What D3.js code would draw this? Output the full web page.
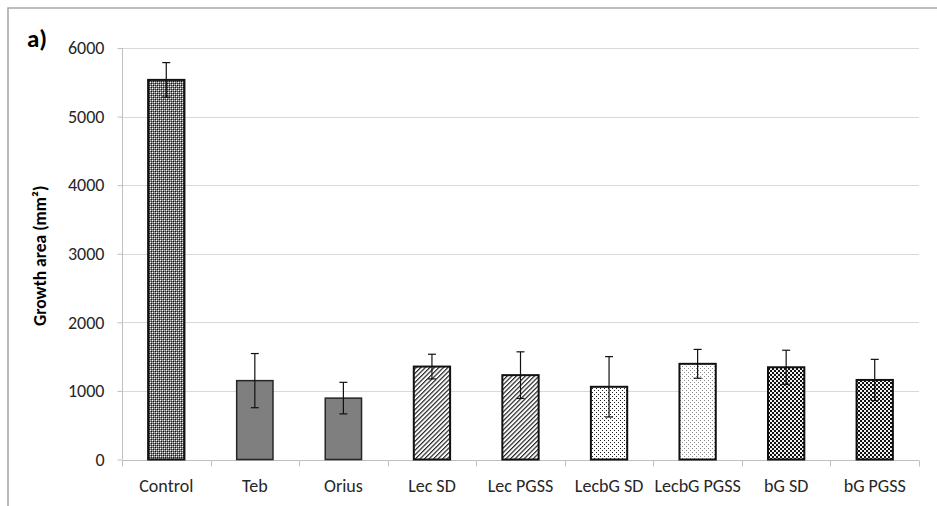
<!DOCTYPE html>
<html>
<head>
<meta charset="utf-8">
<script src="https://cdn.jsdelivr.net/npm/d3@7"></script>
<style>
  html, body { margin: 0; padding: 0; background: #fff; }
  svg { display: block; font-family: Carlito, Lato, "Open Sans", sans-serif; }
</style>
</head>
<body>
<svg id="chart" width="937" height="506"></svg>
<script>
// Treatments and measured growth area (mean ± error), mm²
const categories = ["Control", "Teb", "Orius", "Lec SD", "Lec PGSS", "LecbG SD", "LecbG PGSS", "bG SD", "bG PGSS"];
const means  = [5535, 1150, 895, 1355, 1230, 1060, 1395, 1345, 1160];
const errors = [252, 395, 230, 180, 340, 440, 210, 248, 300];
const fills  = ["plaid", "solid", "solid", "diag", "diag", "dotsDense", "dotsLight", "checker", "checker"];
const yTicks = [0, 1000, 2000, 3000, 4000, 5000, 6000];
const yTitle = "Growth area (mm²)";
const panelLabel = "a)";

const svg = d3.select("#chart");
const plotLeft = 122, plotRight = 919, plotTop = 48, plotBottom = 459.5;

const x = d3.scaleBand().domain(categories).range([plotLeft, plotRight]).paddingInner(0.59).paddingOuter(0.295);
const y = d3.scaleLinear().domain([0, 6000]).range([plotBottom, plotTop]);

// ---- fill patterns ----
const defs = svg.append("defs");

const plaid = defs.append("pattern").attr("id", "plaid").attr("patternUnits", "userSpaceOnUse")
  .attr("width", 4).attr("height", 4).attr("shape-rendering", "crispEdges");
plaid.append("rect").attr("width", 4).attr("height", 4).attr("fill", "#7a7a7a");
[[0,0,"#fff"],[2,2,"#fff"],[1,1,"#111"],[3,3,"#111"],[0,2,"#bdbdbd"],[2,0,"#bdbdbd"],[1,3,"#333"],[3,1,"#333"]]
  .forEach(([px, py, c]) => plaid.append("rect").attr("x", px).attr("y", py).attr("width", 1).attr("height", 1).attr("fill", c));

const diag = defs.append("pattern").attr("id", "diag").attr("patternUnits", "userSpaceOnUse")
  .attr("width", 3.2).attr("height", 3.2).attr("patternTransform", "rotate(45)");
diag.append("rect").attr("width", 3.2).attr("height", 3.2).attr("fill", "#fff");
diag.append("rect").attr("width", 1.2).attr("height", 3.2).attr("fill", "#222");

const dotsDense = defs.append("pattern").attr("id", "dotsDense").attr("patternUnits", "userSpaceOnUse")
  .attr("width", 4).attr("height", 4).attr("shape-rendering", "crispEdges");
dotsDense.append("rect").attr("width", 4).attr("height", 4).attr("fill", "#fff");
[[0,0],[2,2]].forEach(([px, py]) => dotsDense.append("rect").attr("x", px).attr("y", py).attr("width", 1).attr("height", 1).attr("fill", "#222"));

const dotsLight = defs.append("pattern").attr("id", "dotsLight").attr("patternUnits", "userSpaceOnUse")
  .attr("width", 4).attr("height", 4).attr("shape-rendering", "crispEdges");
dotsLight.append("rect").attr("width", 4).attr("height", 4).attr("fill", "#fff");
[[0,0],[2,2]].forEach(([px, py]) => dotsLight.append("rect").attr("x", px).attr("y", py).attr("width", 1).attr("height", 1).attr("fill", "#8a8a8a"));

const checker = defs.append("pattern").attr("id", "checker").attr("patternUnits", "userSpaceOnUse")
  .attr("width", 4).attr("height", 4).attr("shape-rendering", "crispEdges");
checker.append("rect").attr("width", 4).attr("height", 4).attr("fill", "#f2f2f2");
checker.append("rect").attr("x", 0).attr("y", 0).attr("width", 2).attr("height", 2).attr("fill", "#111");
checker.append("rect").attr("x", 2).attr("y", 2).attr("width", 2).attr("height", 2).attr("fill", "#111");

const fillOf = f => f === "solid" ? "#7f7f7f" : `url(#${f})`;

// ---- chart area frame ----
svg.append("rect").attr("x", 8).attr("y", 8).attr("width", 1000).attr("height", 600)
  .attr("fill", "none").attr("stroke", "#a6a6a6").attr("stroke-width", 1.5);

// ---- gridlines ----
svg.append("g").selectAll("line").data(yTicks.filter(d => d > 0)).join("line")
  .attr("x1", plotLeft).attr("x2", plotRight)
  .attr("y1", d => Math.round(y(d)) + 0.5).attr("y2", d => Math.round(y(d)) + 0.5)
  .attr("stroke", "#d9d9d9").attr("stroke-width", 1);

// ---- y axis ----
const yAxis = svg.append("g").attr("transform", `translate(${plotLeft + 0.5},0)`)
  .call(d3.axisLeft(y).tickValues(yTicks).tickSize(5).tickPadding(13).tickFormat(d3.format("d")));
yAxis.select(".domain").attr("stroke", "#bfbfbf").attr("d", `M0,${plotTop}V${plotBottom}`);
yAxis.selectAll(".tick line").attr("stroke", "#bfbfbf");
yAxis.selectAll(".tick text").attr("fill", "#262626").style("font-size", "18px").style("font-family", "Carlito, Lato, sans-serif");

// ---- x axis with ticks at category boundaries ----
const xAxis = svg.append("g").attr("transform", `translate(0,${Math.round(plotBottom) + 0.5})`);
xAxis.append("line").attr("x1", plotLeft).attr("x2", plotRight).attr("stroke", "#bfbfbf");
const boundaries = d3.range(categories.length + 1).map(i => plotLeft + i * x.step());
xAxis.selectAll("line.tk").data(boundaries).join("line").attr("class", "tk")
  .attr("x1", d => Math.round(d) + 0.5).attr("x2", d => Math.round(d) + 0.5).attr("y1", 0).attr("y2", 6)
  .attr("stroke", "#bfbfbf");
xAxis.selectAll("text").data(categories).join("text")
  .attr("x", d => x(d) + x.bandwidth() / 2).attr("y", 31)
  .attr("text-anchor", "middle").attr("fill", "#262626").style("font-size", "18px")
  .text(d => d);

// ---- bars ----
const rows = categories.map((c, i) => ({ c, v: means[i], e: errors[i], f: fills[i] }));
svg.append("g").selectAll("rect").data(rows).join("rect")
  .attr("x", d => x(d.c)).attr("width", x.bandwidth())
  .attr("y", d => y(d.v)).attr("height", d => y(0) - y(d.v))
  .attr("fill", d => fillOf(d.f))
  .attr("stroke", d => d.f === "solid" ? "#262626" : "#111")
  .attr("stroke-width", d => d.f === "solid" ? 1.5 : 2);

// ---- error bars ----
const eb = svg.append("g").attr("stroke", "#111").attr("stroke-width", 1.2);
rows.forEach(d => {
  const cx = x(d.c) + x.bandwidth() / 2;
  eb.append("line").attr("x1", cx).attr("x2", cx).attr("y1", y(d.v + d.e)).attr("y2", y(d.v - d.e));
  [d.v + d.e, d.v - d.e].forEach(v =>
    eb.append("line").attr("x1", cx - 4).attr("x2", cx + 4).attr("y1", y(v)).attr("y2", y(v)));
});

// ---- titles ----
svg.append("text").attr("transform", `translate(46,${(plotTop + plotBottom) / 2 + 2}) rotate(-90)`)
  .attr("text-anchor", "middle").attr("fill", "#000").style("font-size", "17.5px").style("font-weight", "bold")
  .text(yTitle);
svg.append("text").attr("x", 27).attr("y", 47).attr("fill", "#000")
  .style("font-size", "25px").style("font-weight", "bold").text(panelLabel);
</script>
</body>
</html>
